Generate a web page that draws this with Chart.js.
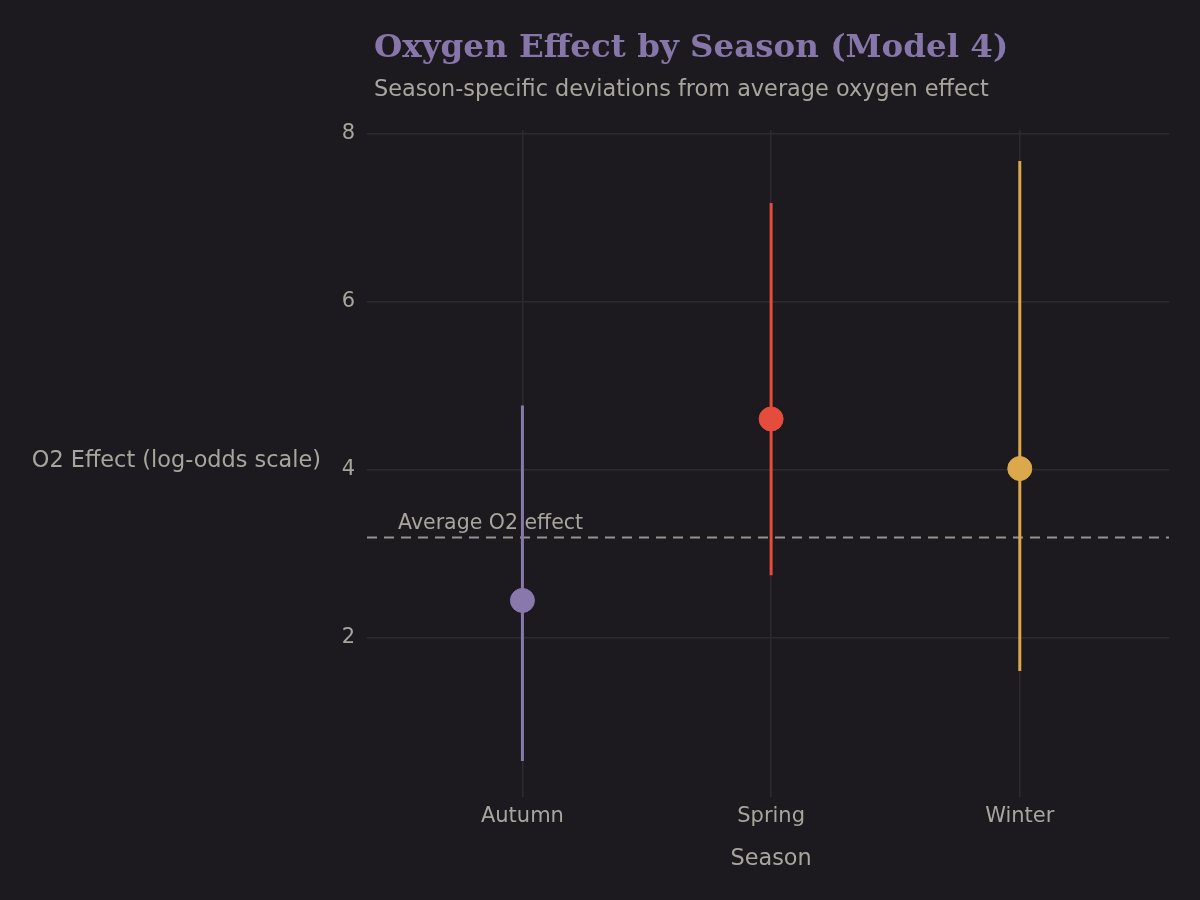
<!DOCTYPE html>
<html>
<head>
<meta charset="utf-8">
<script src="https://cdn.jsdelivr.net/npm/chart.js@4.4.0/dist/chart.umd.min.js"></script>
<style>
html,body{margin:0;padding:0;background:#1c1a1f;}
#wrap{width:1200px;height:900px;}
</style>
</head>
<body>
<div id="wrap"><canvas id="c" width="1200" height="900"></canvas></div>
<script>
const seasons = ["Autumn", "Spring", "Winter"];
const estimates = [2.44, 4.60, 4.01];
const lower = [0.53, 2.74, 1.60];
const upper = [4.76, 7.17, 7.67];
const seasonColors = ["#8878ab", "#e64c3c", "#dba84b"];
const averageEffect = 3.19;
const yTicks = [2, 4, 6, 8];

const textColor = "#a9a59d";
const gridColor = "#2d2b31";

const datasets = [];
seasons.forEach((s, i) => {
  datasets.push({
    type: 'line',
    label: s + ' interval',
    data: [{x: i, y: lower[i]}, {x: i, y: upper[i]}],
    borderColor: seasonColors[i],
    borderWidth: 3,
    pointRadius: 0,
    fill: false,
    order: 2
  });
});
datasets.push({
  type: 'line',
  label: 'Average',
  data: [{x: -0.625, y: averageEffect}, {x: seasons.length - 0.4, y: averageEffect}],
  borderColor: "#96928c",
  borderWidth: 2,
  borderDash: [10, 7],
  pointRadius: 0,
  fill: false,
  order: 3
});
datasets.push({
  type: 'scatter',
  label: 'Estimate',
  data: seasons.map((s, i) => ({x: i, y: estimates[i]})),
  backgroundColor: seasonColors,
  borderColor: seasonColors,
  pointRadius: 12,
  pointHoverRadius: 12,
  order: 1
});

const textPlugin = {
  id: 'texts',
  beforeDraw(chart) {
    const ctx = chart.ctx;
    ctx.save();
    ctx.fillStyle = "#1c1a1f";
    ctx.fillRect(0, 0, chart.width, chart.height);
    ctx.restore();
  },
  afterDatasetsDraw(chart) {
    const ctx = chart.ctx;
    const xs = chart.scales.x, ys = chart.scales.y;
    ctx.save();
    ctx.fillStyle = textColor;
    ctx.font = '20.5px "DejaVu Sans"';
    ctx.textAlign = 'left';
    ctx.textBaseline = 'alphabetic';
    ctx.fillText('Average O2 effect', xs.getPixelForValue(-0.5), ys.getPixelForValue(averageEffect) - 8);
    ctx.restore();
  },
  afterDraw(chart) {
    const ctx = chart.ctx;
    const area = chart.chartArea;
    const xs = chart.scales.x;
    ctx.save();
    ctx.textBaseline = 'alphabetic';
    ctx.textAlign = 'left';
    ctx.fillStyle = "#8676a9";
    ctx.font = 'bold 32.5px "DejaVu Serif"';
    ctx.fillText('Oxygen Effect by Season (Model 4)', 374, 57);
    ctx.fillStyle = textColor;
    ctx.font = '22.4px "DejaVu Sans"';
    ctx.fillText('Season-specific deviations from average oxygen effect', 374, 96);
    ctx.textAlign = 'right';
    ctx.textBaseline = 'middle';
    ctx.fillText('O2 Effect (log-odds scale)', 321, (area.top + area.bottom) / 2 - 2);
    ctx.textAlign = 'center';
    ctx.fillText('Season', xs.getPixelForValue(1), 859);
    ctx.restore();
  }
};

new Chart(document.getElementById('c'), {
  data: { datasets },
  options: {
    responsive: false,
    animation: false,
    devicePixelRatio: 1,
    layout: { padding: { top: 130, right: 31, left: 0, bottom: 0 } },
    plugins: { legend: { display: false }, tooltip: { enabled: false }, title: { display: false } },
    scales: {
      x: {
        type: 'linear',
        min: -0.625,
        max: seasons.length - 0.4,
        afterBuildTicks(scale) { scale.ticks = seasons.map((s, i) => ({value: i})); },
        afterFit(scale) { scale.height = 103; },
        ticks: {
          color: textColor,
          font: { family: 'DejaVu Sans', size: 21 },
          padding: 7,
          callback: (v) => seasons[v] ?? ''
        },
        grid: { color: gridColor, lineWidth: 1.5, drawTicks: false },
        border: { display: false }
      },
      y: {
        type: 'linear',
        min: 0.1,
        max: 8.04,
        afterBuildTicks(scale) { scale.ticks = yTicks.map(v => ({value: v})); },
        afterFit(scale) { scale.width = 367; },
        ticks: {
          color: textColor,
          font: { family: 'DejaVu Sans', size: 21 },
          padding: 12,
          callback: (v) => String(v)
        },
        grid: { color: gridColor, lineWidth: 1.5, drawTicks: false },
        border: { display: false }
      }
    }
  },
  plugins: [textPlugin]
});
</script>
</body>
</html>
